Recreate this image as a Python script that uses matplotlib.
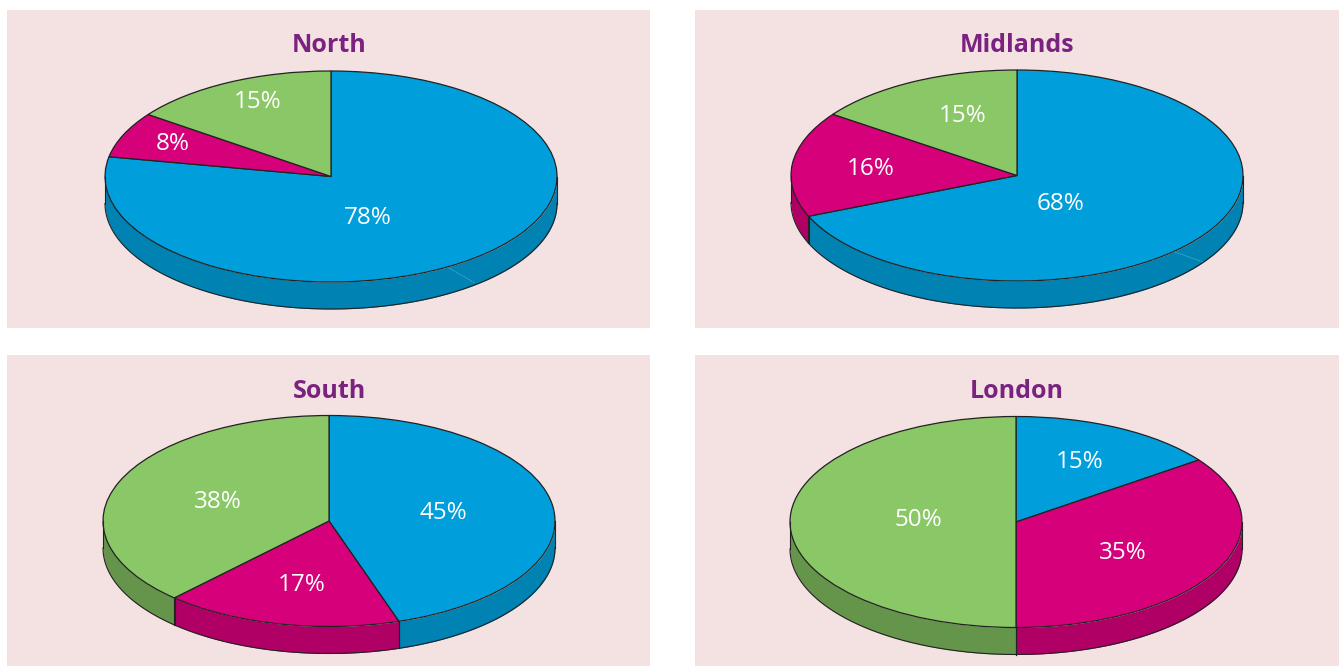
import numpy as np
import matplotlib
matplotlib.use("Agg")
import matplotlib.pyplot as plt
from matplotlib.patches import Rectangle

plt.rcParams['font.family'] = ['Open Sans', 'Noto Sans', 'DejaVu Sans']

W, H = 1339, 666

regions = ["North", "Midlands", "South", "London"]
north = [78, 8, 15]
midlands = [68, 16, 15]
south = [45, 17, 38]
london = [15, 35, 50]
# the printed North figures add up to 101, slice sizes
north_drawn = [78, 7, 15]

top_colors = ["#009FDB", "#D5007A", "#8AC766"]
side_colors = ["#0082B3", "#B00066", "#65954A"]

# layout, all in pixels of the picture
panels = [(7, 10, 643, 318), (695, 10, 644, 318), (7, 355, 643, 311), (695, 355, 644, 311)]
centers = [(331, 176.5), (1017, 175.5), (329, 521), (1016, 522)]
title_pos = [(329, 45), (1017, 45), (329, 391), (1017, 391)]
label_pos = [
    [(368, 218), (173, 144), (258, 102)],
    [(1061, 204), (871, 169), (963, 116)],
    [(443, 513), (302, 585), (218, 502)],
    [(1080, 462), (1123, 553), (918, 520)],
]
seams = [((449, 268), (475, 283)), ((1175, 252), (1203, 262)), None, None]
rx, ry, depth = 226, 105.5, 27


def draw_pie(center, values):
    cx, cy = center
    ax = fig.add_axes([(cx - rx) / W, 1 - (cy + ry) / H, 2 * rx / W, 2 * ry / H], zorder=2)
    ax.patch.set_alpha(0)
    d = depth / ry

    # rim first, slice by slice, only the front half shows
    edges = 90 - 360 * np.cumsum([0] + list(values)) / sum(values)
    for i in range(len(values)):
        hi, lo = edges[i], edges[i + 1]
        t = np.radians(np.arange(180, 360.25, 0.25))
        for off in (0, -360):
            deg = np.degrees(t) + off
            keep = (deg <= hi) & (deg >= lo)
            if keep.sum() < 2:
                continue
            x = np.cos(t[keep])
            y = np.sin(t[keep])
            ax.fill_between(x, y, y - d, color=side_colors[i], lw=0, clip_on=False)
            ax.plot(x, y - d, color="#222222", lw=0.8, clip_on=False)
            ax.plot([x[0], x[0]], [y[0], y[0] - d], color="#222222", lw=0.8, clip_on=False)
            ax.plot([x[-1], x[-1]], [y[-1], y[-1] - d], color="#222222", lw=0.8, clip_on=False)

    ax.pie(values, colors=top_colors, startangle=90, counterclock=False, radius=1,
           wedgeprops={"edgecolor": "#222222", "linewidth": 0.9, "clip_on": False})
    ax.set_aspect("auto")
    ax.set_xlim(-1, 1)
    ax.set_ylim(-1, 1)
    return ax


fig = plt.figure(figsize=(W / 100, H / 100), dpi=100, facecolor="white")

back = fig.add_axes([0, 0, 1, 1], zorder=1)
back.set_xlim(0, W)
back.set_ylim(H, 0)
back.axis("off")
front = fig.add_axes([0, 0, 1, 1], zorder=3)
front.set_xlim(0, W)
front.set_ylim(H, 0)
front.axis("off")

printed = [north, midlands, south, london]
drawn = [north_drawn, midlands, south, london]
for i, name in enumerate(regions):
    x, y, w, h = panels[i]
    back.add_patch(Rectangle((x, y), w, h, facecolor="#F4E1E2", edgecolor="none"))
    draw_pie(centers[i], drawn[i])
    front.text(title_pos[i][0], title_pos[i][1], name, color="#7A2280", fontsize=18,
               fontweight="bold", ha="center", va="center")
    for v, (lx, ly) in zip(printed[i], label_pos[i]):
        front.text(lx, ly, f"{v}%", color="white", fontsize=17.5, ha="center", va="center")
    if seams[i]:
        (x0, y0), (x1, y1) = seams[i]
        front.plot([x0, x1], [y0, y1], color="#4DB1D6", lw=0.6, ls=(0, (2, 1)))

fig.savefig("out.png", dpi=100)
